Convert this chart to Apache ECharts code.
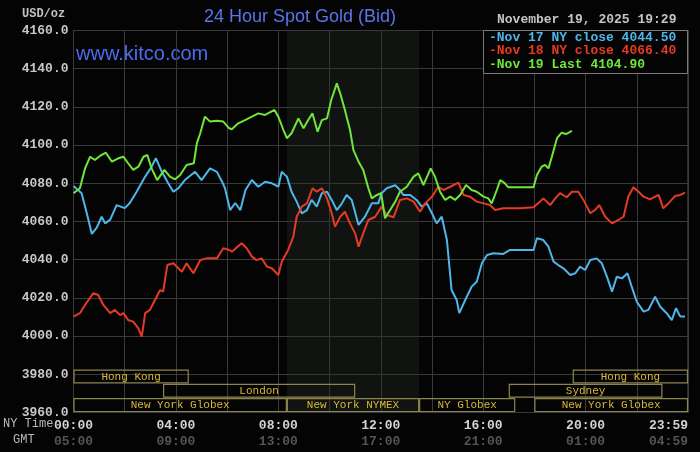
<!DOCTYPE html>
<html lang="en">
<head>
    <meta charset="UTF-8">
    <title>24 Hour Spot Gold (Bid)</title>
    <script src="https://cdn.jsdelivr.net/npm/echarts@6/dist/echarts.min.js"></script>
    <style>
        html, body { margin: 0; padding: 0; background: #040404; }
    </style>
</head>
<body>
    <div id="main" style="width: 700px;height:452px;"></div>
    <script>
        // minutes after NY midnight, price USD/oz
        var nov17 = [
            [0,4078.6],[19,4074.8],[31,4064.5],[43,4053.5],[54,4056.6],[66,4062.5],[74,4059],[86,4061],
            [101,4068.6],[120,4067],[132,4069.7],[148,4075.6],[168,4083.5],[183,4088.7],[193,4093.2],[207,4086],
            [222,4080],[234,4075.6],[246,4077.5],[261,4081.7],[285,4086],[300,4081.7],[320,4087.8],[336,4086],
            [350,4080],[355,4077.4],[367,4066],[379,4069.7],[391,4066],[403,4076.5],[418,4081.7],[433,4078.2],
            [449,4080.8],[465,4080],[480,4078.2],[488,4086],[500,4083.5],[511,4075.6],[523,4070.4],[535,4064.3],
            [547,4066],[558,4071.3],[570,4067.8],[582,4074.8],[594,4075.6],[605,4071.3],[617,4066],[629,4069.5],
            [640,4073.9],[652,4071.3],[668,4058.2],[683,4062.5],[699,4069.5],[714,4069.5],[722,4074.8],[734,4077.4],
            [754,4079],[765,4076.5],[773,4073.9],[789,4073.9],[804,4071.3],[816,4067.8],[828,4069.5],[840,4064.3],
            [851,4059],[863,4062.5],[875,4050.3],[886,4024.1],[898,4018.9],[904,4012],[918,4018.9],[933,4025.9],
            [945,4028.5],[957,4038.1],[969,4042.5],[984,4043.4],[1007,4043],[1023,4045.1],[1078,4045.1],[1086,4051.2],
            [1101,4050.3],[1113,4046.8],[1125,4039],[1136,4037.2],[1148,4035.5],[1164,4032],[1176,4032.9],[1187,4036.4],
            [1199,4034.6],[1211,4039.8],[1226,4040.7],[1238,4038.1],[1250,4031.1],[1262,4023.3],[1273,4031.1],[1285,4030.2],
            [1298,4032.9],[1308,4025.9],[1320,4018],[1336,4012.8],[1347,4013.7],[1363,4020.6],[1375,4015.4],[1390,4012],
            [1402,4008.4],[1412,4014.6],[1422,4010.2],[1433,4010.2]
        ];
        var nov18 = [
            [0,4010.2],[15,4012],[27,4016.3],[46,4022.4],[58,4021.5],[70,4016.3],[86,4012],[97,4013.7],
            [109,4011],[117,4012],[128,4008.4],[140,4007.6],[152,4004.1],[160,3999.7],[168,4012],[179,4013.7],
            [191,4018.9],[203,4024.1],[210,4023.3],[220,4037.2],[234,4038.1],[254,4033.7],[265,4038.1],[281,4032.9],
            [297,4039.8],[312,4040.7],[336,4040.7],[351,4046],[365,4045.1],[371,4044.2],[394,4048.6],[406,4046],
            [418,4041.6],[429,4039.8],[441,4040.7],[453,4036.4],[465,4035.5],[480,4032],[488,4038.9],[503,4045.1],
            [515,4052],[523,4062.5],[535,4067.8],[547,4069.5],[560,4077.4],[570,4075.6],[582,4077.4],[594,4072.1],
            [605,4064.3],[613,4057.3],[625,4062.5],[636,4065.1],[648,4059],[660,4053.8],[668,4046.8],[679,4053.8],
            [691,4060.8],[707,4062.5],[722,4067.8],[734,4063.4],[750,4062.2],[765,4071.3],[781,4072.1],[797,4070.4],
            [812,4065.1],[824,4069.5],[840,4073],[855,4078.2],[867,4076.5],[883,4078.2],[902,4080.3],[914,4073.9],
            [929,4073],[945,4070.4],[961,4069.5],[976,4068.6],[988,4066],[1007,4066.9],[1047,4066.9],[1078,4067.4],
            [1093,4070.4],[1101,4072.1],[1117,4068.6],[1129,4072.1],[1140,4074.8],[1156,4072.7],[1168,4075.6],[1183,4075.6],
            [1195,4071.3],[1211,4064.3],[1222,4066],[1232,4068.6],[1246,4062.5],[1262,4059],[1277,4060.8],[1289,4062.5],
            [1300,4073],[1312,4077.9],[1324,4075.6],[1336,4073],[1351,4071.6],[1371,4073.9],[1382,4066.9],[1394,4069.5],
            [1410,4073.4],[1422,4073.9],[1433,4075.1]
        ];
        var nov19 = [
            [0,4074.8],[15,4077.4],[27,4087.8],[39,4093.9],[50,4092.2],[62,4094.3],[76,4096],[90,4091.3],
            [105,4093.1],[117,4093.9],[128,4090.5],[140,4087],[152,4088.7],[164,4093.9],[173,4094.8],[183,4087.8],
            [196,4081.7],[213,4087],[226,4083.5],[238,4082.1],[250,4084.3],[265,4089.6],[282,4090.5],[289,4100.9],
            [297,4106.2],[308,4114.9],[320,4112.3],[336,4112.8],[351,4112.3],[365,4108.8],[371,4108.3],[386,4111.4],
            [402,4113.1],[418,4114.9],[433,4116.6],[449,4115.8],[471,4118.4],[480,4114.9],[492,4107.9],[500,4103.6],
            [511,4106.2],[527,4114],[539,4108.8],[550,4113.1],[560,4116.6],[572,4107],[582,4113.1],[594,4114],
            [604,4123.6],[617,4132.3],[625,4127.1],[636,4118.4],[648,4107.9],[656,4097.4],[668,4091.3],[679,4087],
            [691,4077.4],[699,4072.1],[711,4073.9],[721,4074.8],[730,4061.7],[742,4066],[754,4070.4],[765,4075.6],
            [781,4078.2],[797,4083.5],[808,4085.2],[820,4079.1],[832,4085.2],[837,4087.8],[847,4083.5],[859,4075.6],
            [871,4071.3],[883,4073],[894,4071.3],[906,4073.9],[920,4079.1],[933,4076.5],[945,4075.6],[961,4073],
            [972,4072.1],[980,4069.5],[992,4076.5],[1000,4081.7],[1011,4080],[1019,4077.9],[1078,4077.9],[1086,4084.3],
            [1097,4088.7],[1105,4089.6],[1113,4087.8],[1121,4093.9],[1133,4103.6],[1144,4106.5],[1154,4105.8],[1168,4107.5]
        ];

        var legendText = ['Nov 17 NY close 4044.50', 'Nov 18 NY close 4066.40', 'Nov 19 Last 4104.90'];
        var nyTicks = ['00:00', '04:00', '08:00', '12:00', '16:00', '20:00', '23:59'];
        var gmtTicks = ['05:00', '09:00', '13:00', '17:00', '21:00', '01:00', '04:59'];

        // market sessions: [start min, end min, row, name]
        var sessions = [
            [0, 270, 0, 'Hong Kong'],
            [1170, 1440, 0, 'Hong Kong'],
            [210, 660, 1, 'London'],
            [1020, 1380, 1, 'Sydney'],
            [0, 500, 2, 'New York Globex'],
            [500, 810, 2, 'New York NYMEX'],
            [810, 1035, 2, 'NY Globex'],
            [1080, 1440, 2, 'New York Globex']
        ];
        var nymex = [500, 810];

        var colors = ['#4fb6ea', '#e63a26', '#70e63a'];
        var mono = '"Liberation Mono", "DejaVu Sans Mono", monospace';

        var myChart = echarts.init(document.getElementById('main'));

        var legendItems = legendText.map(function (t, i) {
            return {
                type: 'text', left: 489, top: 31 + i * 13.7, z: 101,
                style: { text: '-' + t, fill: colors[i], font: 'bold 13px ' + mono }
            };
        });

        var option = {
            backgroundColor: '#040404',
            animation: false,
            grid: { left: 73.5, right: 12, top: 30.5, bottom: 39.5, show: true, borderColor: '#555', borderWidth: 1 },
            xAxis: {
                type: 'value', min: 0, max: 1440, interval: 120,
                axisLine: { show: false }, axisTick: { show: false },
                splitLine: { lineStyle: { color: '#3a3a3a', width: 1 } },
                axisLabel: {
                    margin: 5, showMinLabel: true, showMaxLabel: true, alignMaxLabel: 'right',
                    formatter: function (v) {
                        if (v % 240 !== 0 && v !== 1440) return '';
                        var i = Math.round(v / 240);
                        if (v === 1440) i = nyTicks.length - 1;
                        return '{ny|' + nyTicks[i] + '}\n{gmt|' + gmtTicks[i] + '}';
                    },
                    rich: {
                        ny: { color: '#d4d4d4', fontFamily: mono, fontWeight: 'bold', fontSize: 13, lineHeight: 16 },
                        gmt: { color: '#555555', fontFamily: mono, fontWeight: 'bold', fontSize: 13, lineHeight: 16 }
                    }
                }
            },
            yAxis: {
                type: 'value', min: 3960, max: 4160, interval: 20,
                axisLine: { show: false }, axisTick: { show: false },
                splitLine: { lineStyle: { color: '#3a3a3a', width: 1 } },
                axisLabel: {
                    margin: 5, color: '#c8c8c8', fontFamily: mono, fontWeight: 'bold', fontSize: 13,
                    formatter: function (v) { return v.toFixed(1); }
                }
            },
            graphic: [
                { type: 'text', left: 300 - 96, top: 8, style: { text: '24 Hour Spot Gold (Bid)', fill: '#5b74ea', font: '18px "Liberation Sans", Arial, sans-serif' } },
                { type: 'text', left: 76, top: 44, style: { text: 'www.kitco.com', fill: '#4c6cf0', font: '20px "Liberation Sans", Arial, sans-serif' } },
                { type: 'text', left: 22, top: 8, style: { text: 'USD/oz', fill: '#c0c0c0', font: 'bold 12px ' + mono } },
                { type: 'text', left: 497, top: 13, style: { text: 'November 19, 2025 19:29', fill: '#c4c4c4', font: 'bold 13px ' + mono } },
                { type: 'text', left: 3, top: 418, style: { text: 'NY Time', fill: '#b8b8b8', font: '12px ' + mono } },
                { type: 'text', left: 13, top: 434, style: { text: 'GMT', fill: '#b8b8b8', font: '12px ' + mono } },
                {
                    type: 'rect', z: 100,
                    shape: { x: 483.5, y: 30.5, width: 204, height: 43 },
                    style: { fill: '#040404', stroke: '#7a7a7a', lineWidth: 1 }
                }
            ].concat(legendItems),
            series: [
                {
                    name: 'Nov 17', type: 'line', data: nov17, showSymbol: false,
                    lineStyle: { color: colors[0], width: 2 }, z: 3,
                    markArea: {
                        silent: true,
                        itemStyle: { color: 'rgba(40,48,40,0.35)' },
                        data: [[{ xAxis: nymex[0] }, { xAxis: nymex[1] }]]
                    }
                },
                { name: 'Nov 18', type: 'line', data: nov18, showSymbol: false, lineStyle: { color: colors[1], width: 2 }, z: 4 },
                { name: 'Nov 19', type: 'line', data: nov19, showSymbol: false, lineStyle: { color: colors[2], width: 2 }, z: 5 },
                {
                    type: 'custom', silent: true, z: 6,
                    data: sessions,
                    encode: { x: [0, 1] },
                    renderItem: function (params, api) {
                        var x1 = api.coord([api.value(0), 3960])[0];
                        var x2 = api.coord([api.value(1), 3960])[0];
                        var yb = api.coord([0, 3960])[1];
                        var h = 14.3;
                        var top = yb - (3 - api.value(2)) * h;
                        return {
                            type: 'group',
                            children: [
                                {
                                    type: 'rect',
                                    shape: { x: x1 + 0.5, y: top + 0.5, width: x2 - x1 - 1, height: h - 1.5 },
                                    style: { fill: 'none', stroke: '#8c8550', lineWidth: 1.2 }
                                },
                                {
                                    type: 'text',
                                    style: {
                                        text: sessions[params.dataIndex][3],
                                        x: (x1 + x2) / 2, y: top + h / 2,
                                        align: 'center', verticalAlign: 'middle',
                                        fill: '#dcb83a', font: '11px ' + mono
                                    }
                                }
                            ]
                        };
                    }
                }
            ]
        };
        myChart.setOption(option);
    </script>
</body>
</html>
